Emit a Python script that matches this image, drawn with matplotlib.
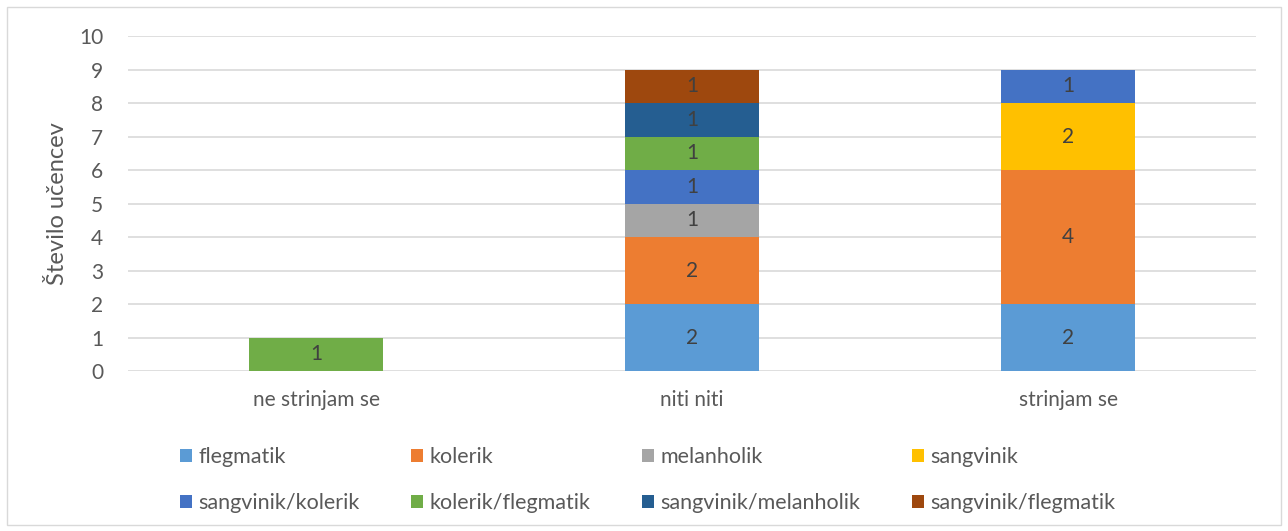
import matplotlib
matplotlib.use("Agg")
import matplotlib.pyplot as plt
from matplotlib.patches import Rectangle
import numpy as np

plt.rcParams['font.family'] = ['Lato', 'DejaVu Sans']

categories = ["ne strinjam se", "niti niti", "strinjam se"]
series_names = ["flegmatik", "kolerik", "melanholik", "sangvinik",
                "sangvinik/kolerik", "kolerik/flegmatik",
                "sangvinik/melanholik", "sangvinik/flegmatik"]
flegmatik = [0, 2, 2]
kolerik = [0, 2, 4]
melanholik = [0, 1, 0]
sangvinik = [0, 0, 2]
sangvinik_kolerik = [0, 1, 1]
kolerik_flegmatik = [1, 1, 0]
sangvinik_melanholik = [0, 1, 0]
sangvinik_flegmatik = [0, 1, 0]
series_values = [flegmatik, kolerik, melanholik, sangvinik, sangvinik_kolerik,
                 kolerik_flegmatik, sangvinik_melanholik, sangvinik_flegmatik]
colors = ["#5B9BD5", "#ED7D31", "#A5A5A5", "#FFC000",
          "#4472C4", "#70AD47", "#255E91", "#9E480E"]
y_ticks = list(range(0, 11))
y_label = "Število učencev"

fig = plt.figure(figsize=(12.88, 5.31), dpi=100)
ax = fig.add_axes([0.0994, 0.3013, 0.8758, 0.6309])

x = np.arange(len(categories))
bottom = np.zeros(len(categories))
handles = []
for name, vals, c in zip(series_names, series_values, colors):
    vals = np.array(vals, dtype=float)
    bars = ax.bar(x, vals, 0.354, bottom=bottom, color=c, label=name, zorder=3)
    labels = [f"{int(v)}" if v > 0 else "" for v in vals]
    ax.bar_label(bars, labels=labels, label_type='center', color="#404040", fontsize=15)
    handles.append(bars)
    bottom += vals

ax.set_xlim(-0.5, len(categories) - 0.5)
ax.set_ylim(0, 10)
ax.set_yticks(y_ticks)
ax.set_xticks(x)
ax.set_xticklabels(categories)
ax.tick_params(axis='both', length=0, colors="#595959", labelsize=15)
ax.tick_params(axis='y', pad=18)
ax.tick_params(axis='x', pad=14)
ax.grid(axis='y', color="#D9D9D9", linewidth=1.2, zorder=0)
for s in ax.spines.values():
    s.set_visible(False)
ax.set_ylabel(y_label, color="#595959", fontsize=17, labelpad=8)

order = [0, 4, 1, 5, 2, 6, 3, 7]
leg = fig.legend([handles[i] for i in order], [series_names[i] for i in order],
                 ncol=4, loc='center', bbox_to_anchor=(0.503, 0.096),
                 frameon=False, fontsize=15.5, handlelength=0.55, handleheight=0.55,
                 handletextpad=0.3, columnspacing=2.4, labelspacing=1.2)
for t in leg.get_texts():
    t.set_color("#595959")

fig.patches.append(Rectangle((0.0055, 0.011), 0.989, 0.976, transform=fig.transFigure,
                             fill=False, edgecolor="#D9D9D9", linewidth=1))

fig.savefig("out.png", dpi=100)
